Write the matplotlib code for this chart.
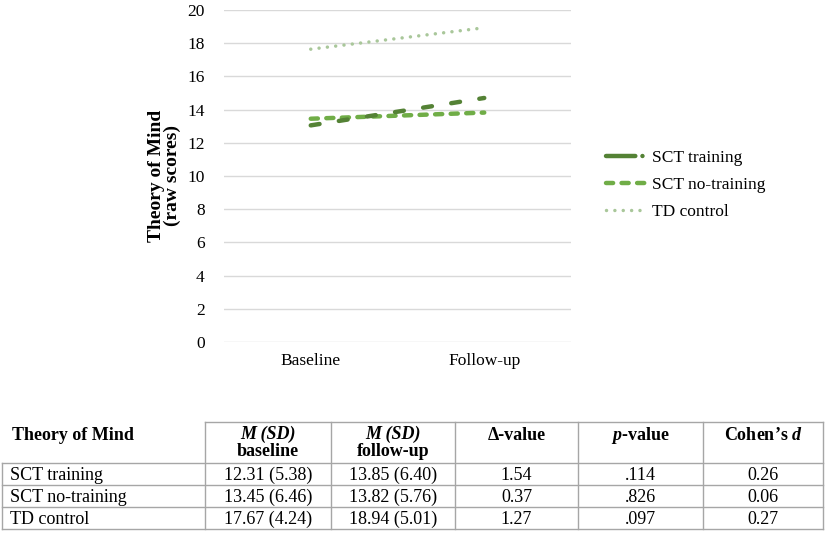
import matplotlib
matplotlib.use("Agg")
import matplotlib.pyplot as plt
from matplotlib.lines import Line2D

plt.rcParams['font.family'] = ['Liberation Serif', 'DejaVu Serif']
plt.rcParams['mathtext.fontset'] = 'custom'
plt.rcParams['mathtext.it'] = 'Liberation Serif:bold:italic'
plt.rcParams['mathtext.rm'] = 'Liberation Serif:bold'

# Datos del gráfico
momentos = ['Baseline', 'Follow-up']
sct_training = [13.05, 14.70]
sct_no_training = [13.45, 13.82]
td_control = [17.64, 18.93]
grupos = ['SCT training', 'SCT no-training', 'TD control']

# Datos de la tabla
encabezados = ['Theory of Mind', 'M (SD)\nbaseline', 'M (SD)\nfollow-up',
               'Δ-value', '$\\it{p}$-value', 'Cohen’s $\\it{d}$']
media_base = ['12.31 (5.38)', '13.45 (6.46)', '17.67 (4.24)']
media_seg = ['13.85 (6.40)', '13.82 (5.76)', '18.94 (5.01)']
delta = ['1.54', '0.37', '1.27']
p_valor = ['.114', '.826', '.097']
cohen_d = ['0.26', '0.06', '0.27']

W, H = 829, 536
fig = plt.figure(figsize=(W / 100, H / 100), dpi=100)

# Gráfico de líneas
ax = fig.add_axes([224 / W, 1 - 342 / H, 347 / W, 332 / H])
x = range(len(momentos))
ax.plot(x, sct_training, color='#548235', lw=3.2, linestyle=(0, (2.0, 4.4)),
        dash_capstyle='round', label=grupos[0], zorder=3)
ax.plot(x, sct_no_training, color='#70AD47', lw=3.2, linestyle=(0, (1.6, 1.9)),
        dash_capstyle='round', label=grupos[1], zorder=2)
ax.plot(x, td_control, color='#A9C79A', lw=2.5, linestyle=(0, (0.01, 2.4)),
        dash_capstyle='round', label=grupos[2], zorder=2)

ax.set_xlim(-0.5, 1.5)
ax.set_ylim(0, 20)
ax.set_yticks(range(0, 21, 2))
ax.set_xticks(list(x))
ax.set_xticklabels(momentos, fontsize=12.5)
ax.tick_params(axis='y', labelsize=12.5, length=0, pad=14)
ax.tick_params(axis='x', length=0, pad=8)
ax.grid(axis='y', color='#D9D9D9', lw=1)
ax.set_axisbelow(True)
for s in ax.spines.values():
    s.set_visible(False)
ax.set_ylabel('Theory of Mind\n(raw scores)', fontsize=14, fontweight='bold',
              labelpad=4, linespacing=0.95)

handles = [
    Line2D([], [], color='#548235', lw=3.2, linestyle=(0, (6.6, 1.6, 0.01, 8)),
           dash_capstyle='round'),
    Line2D([], [], color='#70AD47', lw=3.2, linestyle=(0, (1.6, 1.9)),
           dash_capstyle='round'),
    Line2D([], [], color='#A9C79A', lw=2.5, linestyle=(0, (0.01, 2.4)),
           dash_capstyle='round'),
]
fig.legend(handles, grupos, loc='center left',
           bbox_to_anchor=(590 / W, 1 - 185 / H), frameon=False, fontsize=12.5,
           handlelength=2.3, labelspacing=0.62, handletextpad=0.35)

# Tabla dibujada en coordenadas de píxel
tab = fig.add_axes([0, 0, 1, 1])
tab.set_xlim(0, W)
tab.set_ylim(H, 0)
tab.axis('off')

cols = [2, 205, 331, 455, 578, 703, 823]
top, head_bot = 422, 463
rows = [463, 485, 507, 529]
gris = '#A6A6A6'

tab.plot([cols[1], cols[-1]], [top, top], color=gris, lw=1)
for yy in rows:
    tab.plot([cols[0], cols[-1]], [yy, yy], color=gris, lw=1)
for i, xx in enumerate(cols):
    y0 = rows[0] if i == 0 else top
    tab.plot([xx, xx], [y0, rows[-1]], color=gris, lw=1)

# Encabezados
tab.text(12, 435, encabezados[0], fontsize=13, fontweight='bold',
         ha='left', va='center')
for j in (1, 2):
    cx = (cols[j] + cols[j + 1]) / 2
    l1, l2 = encabezados[j].split('\n')
    tab.text(cx, 434, l1, fontsize=13, fontweight='bold', fontstyle='italic',
             ha='center', va='center')
    tab.text(cx, 452, l2, fontsize=13, fontweight='bold',
             ha='center', va='center')
for j in (3, 4, 5):
    cx = (cols[j] + cols[j + 1]) / 2
    tab.text(cx, 435, encabezados[j], fontsize=13, fontweight='bold',
             ha='center', va='center')

# Filas
for i, g in enumerate(grupos):
    cy = (rows[i] + rows[i + 1]) / 2 + 1
    tab.text(10, cy, g, fontsize=13, ha='left', va='center')
    vals = [media_base[i], media_seg[i], delta[i], p_valor[i], cohen_d[i]]
    for j, v in enumerate(vals, start=1):
        cx = (cols[j] + cols[j + 1]) / 2
        tab.text(cx, cy, v, fontsize=13, ha='center', va='center')

fig.savefig('out.png', dpi=100)
